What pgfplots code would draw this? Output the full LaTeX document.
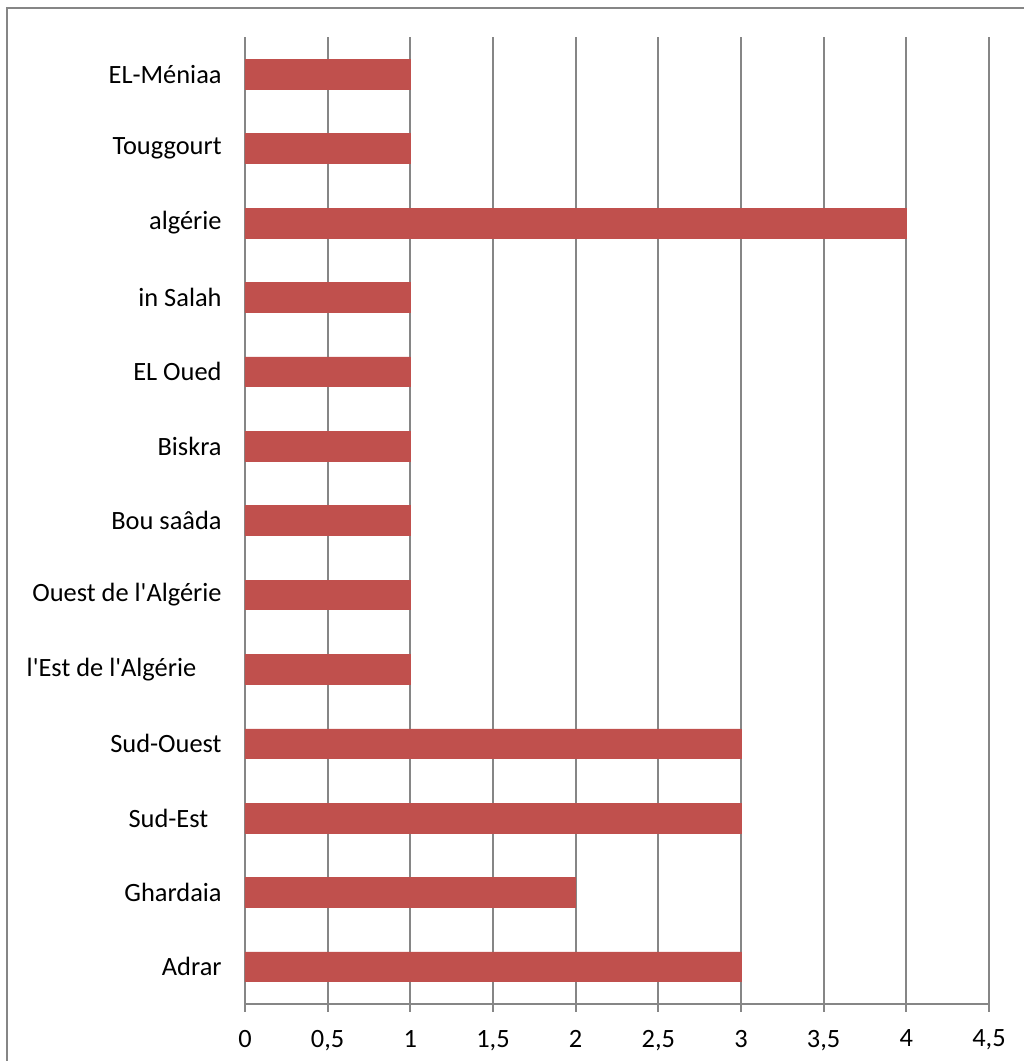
\documentclass[border=0pt]{standalone}
\usepackage{pgfplots}
\pgfplotsset{compat=1.18}
\usepackage{fontspec}
\setmainfont{Carlito}
\definecolor{barred}{HTML}{C0504D}
\definecolor{gridgray}{HTML}{868686}
\newcommand{\ap}{\textquotesingle}
\begin{document}
\begin{tikzpicture}
\useasboundingbox (0pt,0pt) rectangle (768pt,795.75pt);
\draw[gridgray, line width=1.5pt] (5.25pt,0pt) -- (5.25pt,789.75pt) -- (768pt,789.75pt);
\begin{axis}[
  at={(183.75pt,42.75pt)}, anchor=south west,
  scale only axis, width=558pt, height=725.25pt,
  xmin=0, xmax=4.5, ymin=-0.5, ymax=12.5,
  axis x line*=bottom, axis y line*=left,
  axis line style={-, gridgray, line width=1.3pt},
  xbar, bar width=0.4,
  xtick={0,0.5,...,4.5},
  xmajorgrids, grid style={gridgray, line width=1.3pt},
  x tick style={gridgray, line width=1.3pt},
  tick align=outside,
  major tick length=6pt,
  x tick label style={/pgf/number format/use comma, /pgf/number format/assume math mode=true, font=\fontsize{19.8}{22}\selectfont, yshift=-10pt},
  ytick={0,...,12},
  yticklabels={Adrar, Ghardaia, {Sud-Est\hspace*{10pt}}, Sud-Ouest, {l\ap Est de l\ap Algérie\hspace*{19pt}}, Ouest de l\ap Algérie, Bou saâda, Biskra, EL Oued, in Salah, algérie, Touggourt, EL-Méniaa},
  y tick label style={font=\fontsize{19.8}{22}\selectfont, xshift=-8pt},
  y tick style={draw=none},
  minor ytick={-0.5,0.5,...,12.5},
  minor y tick style={gridgray, line width=1.3pt},
  minor tick length=6pt,
]
\addplot[fill=barred, draw=barred, line width=0.4pt] coordinates {
(3,0) (2,1) (3,2) (3,3) (1,4) (1,5) (1,6) (1,7) (1,8) (1,9) (4,10) (1,11) (1,12)
};
\end{axis}
\end{tikzpicture}
\end{document}
